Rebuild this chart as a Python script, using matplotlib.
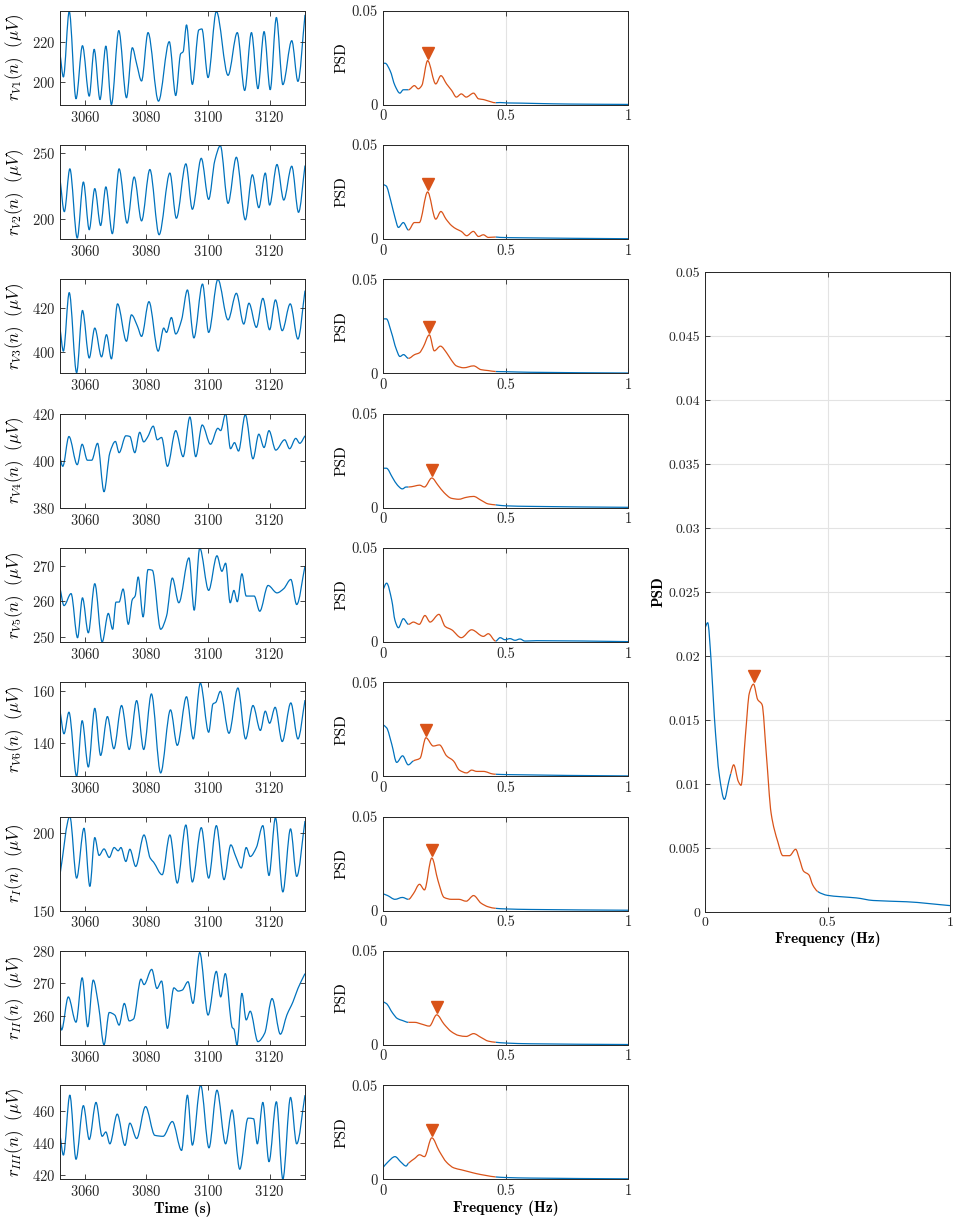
import numpy as np
import matplotlib
matplotlib.use('Agg')
import matplotlib.pyplot as plt
from matplotlib.path import Path
from matplotlib.patches import PathPatch
from matplotlib.transforms import offset_copy

plt.rcParams.update({
    'font.family': 'cmr10', 'mathtext.fontset': 'cm',
    'axes.formatter.use_mathtext': True, 'font.size': 10,
    'axes.linewidth': 0.7, 'axes.edgecolor': '#262626',
    'xtick.color': '#262626', 'ytick.color': '#262626',
    'xtick.direction': 'in', 'ytick.direction': 'in',
    'xtick.top': True, 'ytick.right': True,
    'xtick.major.size': 3.5, 'ytick.major.size': 3.5,
    'xtick.major.width': 0.6, 'ytick.major.width': 0.6,
})

BLUE = '#0072BD'
RED = '#D95319'

# ---------------- time series (s, uV): read at peaks / troughs / shoulders ----------------
t_v1 = [3051.9, 3053.0, 3054.9, 3057.1, 3059.2, 3061.4, 3063.0, 3064.9, 3066.8, 3068.6, 3071.0, 3073.5, 3075.4, 3076.8,
        3078.4, 3080.5, 3083.9, 3087.4, 3089.5, 3091.1, 3091.9, 3093.0, 3094.9, 3097.0, 3098.0, 3100.0, 3102.7, 3106.5,
        3109.5, 3111.9, 3114.1, 3116.2, 3118.2, 3120.2, 3122.2, 3124.3, 3127.2, 3129.2, 3131.5]
v_v1 = [214.2, 202.5, 235.0, 191.7, 218.0, 193.0, 216.2, 191.3, 217.8, 188.8, 225.5, 192.2, 217.0, 209.0,
        200.5, 224.5, 190.5, 220.0, 193.3, 214.0, 215.0, 228.3, 198.8, 225.8, 226.3, 202.2, 235.0, 203.3,
        224.5, 195.8, 224.5, 196.7, 225.0, 196.2, 232.0, 198.7, 220.5, 200.3, 233.3]

t_v2 = [3051.9, 3053.3, 3055.1, 3057.5, 3059.5, 3061.4, 3063.2, 3065.1, 3066.8, 3068.9, 3071.1, 3073.7, 3076.0, 3078.4,
        3081.1, 3084.1, 3087.6, 3089.7, 3092.8, 3094.9, 3097.8, 3100.2, 3102.2, 3104.0, 3106.5, 3109.2, 3112.1, 3114.4,
        3116.5, 3118.6, 3120.0, 3122.4, 3124.6, 3127.2, 3129.4, 3131.5]
v_v2 = [230.5, 205.5, 238.0, 185.5, 228.0, 191.8, 223.0, 195.0, 224.3, 188.8, 238.0, 196.8, 231.8, 198.5,
        237.5, 188.0, 234.8, 200.5, 241.8, 207.3, 246.0, 214.8, 244.3, 255.5, 211.8, 246.8, 199.3, 233.5,
        208.5, 234.8, 210.5, 241.3, 214.3, 240.0, 205.0, 240.5]

t_v3 = [3051.9, 3053.0, 3054.9, 3057.3, 3059.2, 3061.4, 3063.2, 3065.4, 3067.0, 3068.6, 3070.6, 3073.5, 3075.1, 3077.1,
        3078.4, 3080.8, 3083.8, 3085.6, 3086.5, 3088.1, 3089.5, 3091.4, 3093.3, 3095.4, 3098.2, 3100.2, 3103.2, 3106.5,
        3109.2, 3111.6, 3113.3, 3115.7, 3117.8, 3120.0, 3121.9, 3124.1, 3126.7, 3129.2, 3131.5]
v_v3 = [411.0, 400.5, 427.1, 390.7, 419.0, 397.4, 411.0, 397.9, 408.0, 397.0, 422.0, 405.0, 417.0, 411.7,
        407.2, 423.0, 400.5, 411.0, 409.0, 415.8, 408.3, 414.7, 428.3, 406.5, 431.0, 409.0, 433.1, 414.7,
        426.8, 412.8, 422.3, 411.3, 424.5, 410.2, 423.8, 409.8, 422.0, 406.0, 428.0]

t_v4 = [3051.9, 3052.8, 3054.8, 3057.5, 3059.1, 3060.8, 3062.2, 3064.1, 3066.2, 3068.1, 3069.9, 3071.1, 3073.3, 3074.6,
        3076.2, 3077.8, 3079.1, 3080.3, 3082.2, 3083.5, 3084.9, 3086.8, 3089.5, 3091.9, 3094.1, 3096.0, 3098.1, 3100.8,
        3103.2, 3104.1, 3105.7, 3107.3, 3108.6, 3109.9, 3112.1, 3114.6, 3116.5, 3118.2, 3119.8, 3122.0, 3124.9, 3126.5,
        3128.5, 3129.8, 3131.5]
v_v4 = [401.2, 397.6, 410.3, 398.3, 407.0, 400.2, 400.2, 407.4, 386.8, 403.4, 408.2, 403.4, 410.6, 410.3,
        403.4, 412.1, 408.0, 409.9, 414.7, 408.9, 409.9, 397.6, 412.8, 401.7, 418.6, 401.7, 415.2, 407.0,
        413.8, 412.8, 420.0, 405.1, 407.7, 404.1, 419.6, 400.8, 411.3, 405.6, 412.8, 404.5, 408.9, 405.1,
        409.5, 407.4, 410.6]

t_v5 = [3051.9, 3053.2, 3055.5, 3057.6, 3059.2, 3061.1, 3063.2, 3065.6, 3067.6, 3069.0, 3070.1, 3071.1, 3072.4, 3074.1,
        3075.4, 3076.3, 3077.3, 3078.9, 3080.5, 3081.9, 3084.6, 3086.5, 3088.4, 3090.5, 3093.8, 3095.5, 3097.3, 3100.2,
        3102.9, 3104.5, 3105.7, 3107.2, 3108.4, 3109.5, 3111.0, 3112.4, 3115.0, 3116.8, 3119.5, 3122.4, 3124.6, 3126.9,
        3128.8, 3131.5]
v_v5 = [263.8, 258.8, 262.2, 249.7, 261.0, 251.1, 265.0, 248.5, 256.6, 252.1, 259.8, 259.8, 263.5, 253.5,
        260.5, 261.5, 266.9, 255.6, 269.0, 268.8, 252.1, 255.8, 266.6, 259.6, 272.3, 257.5, 275.1, 263.1,
        272.9, 268.5, 270.8, 259.6, 263.1, 259.9, 267.8, 261.5, 261.5, 257.2, 264.5, 262.4, 263.6, 266.2,
        259.1, 270.0]

t_v6 = [3051.9, 3053.2, 3054.8, 3057.3, 3059.1, 3061.1, 3063.2, 3065.1, 3067.3, 3069.4, 3071.9, 3074.4, 3076.8, 3079.1,
        3081.6, 3084.6, 3087.8, 3090.0, 3093.0, 3095.2, 3097.5, 3100.2, 3101.6, 3102.5, 3104.0, 3106.8, 3109.7, 3112.2,
        3114.6, 3117.0, 3118.6, 3120.0, 3121.8, 3124.1, 3126.9, 3129.2, 3131.5]
v_v6 = [152.5, 143.5, 151.9, 127.0, 148.6, 130.6, 153.4, 135.1, 150.2, 137.7, 154.5, 137.4, 156.4, 137.4,
        159.0, 128.3, 152.8, 139.0, 157.9, 141.5, 163.2, 144.1, 155.1, 155.7, 160.0, 143.7, 161.3, 141.5,
        154.5, 144.8, 152.3, 147.6, 153.8, 140.5, 155.5, 141.5, 156.6]

t_i = [3051.9, 3055.1, 3057.3, 3059.7, 3061.6, 3063.2, 3064.6, 3066.2, 3067.9, 3069.5, 3070.8, 3071.7, 3073.3, 3074.6,
       3076.5, 3079.2, 3081.2, 3082.3, 3085.1, 3087.6, 3090.0, 3092.8, 3094.9, 3097.8, 3100.2, 3102.7, 3105.2, 3107.4,
       3109.0, 3110.8, 3112.4, 3113.7, 3115.7, 3117.8, 3119.8, 3121.9, 3124.3, 3126.8, 3128.8, 3131.5]
v_i = [173.1, 210.5, 170.9, 203.0, 165.6, 197.0, 185.5, 189.7, 184.2, 190.6, 188.5, 190.6, 181.6, 189.5,
       178.4, 198.7, 183.8, 181.2, 173.1, 198.7, 167.7, 205.1, 168.4, 203.4, 170.9, 204.7, 169.9, 192.3,
       184.8, 177.4, 190.6, 184.8, 190.6, 204.7, 172.6, 209.8, 162.0, 202.6, 172.0, 207.7]

t_ii = [3051.9, 3052.4, 3054.6, 3057.1, 3059.1, 3060.9, 3062.7, 3064.4, 3066.2, 3067.9, 3069.7, 3071.1, 3072.8, 3074.4,
        3075.8, 3078.2, 3079.2, 3081.7, 3083.4, 3084.9, 3086.8, 3088.9, 3090.3, 3091.6, 3093.5, 3095.1, 3097.3, 3100.0,
        3102.7, 3104.1, 3105.6, 3107.9, 3108.4, 3109.4, 3111.0, 3112.4, 3113.7, 3116.2, 3118.4, 3120.8, 3123.5, 3125.6,
        3127.6, 3129.2, 3131.5]
v_ii = [258.2, 255.6, 265.8, 258.0, 271.7, 256.6, 271.0, 263.3, 251.0, 261.0, 260.2, 257.1, 263.8, 258.4,
        259.0, 271.3, 269.6, 274.3, 268.4, 270.7, 256.1, 268.6, 267.6, 267.9, 270.5, 263.8, 279.5, 260.2,
        273.7, 265.8, 273.0, 256.3, 255.9, 251.0, 266.9, 258.7, 261.4, 252.0, 254.6, 265.3, 254.3, 260.2,
        264.3, 268.4, 273.0]

t_iii = [3051.9, 3053.0, 3055.1, 3057.1, 3059.5, 3061.4, 3063.6, 3065.6, 3066.8, 3068.1, 3070.5, 3073.0, 3074.6, 3076.8,
         3079.7, 3082.7, 3085.4, 3088.4, 3091.4, 3093.3, 3094.9, 3097.6, 3100.3, 3102.9, 3105.7, 3107.8, 3110.3, 3113.0,
         3114.8, 3116.0, 3117.8, 3119.8, 3122.2, 3124.3, 3126.8, 3128.8, 3131.5]
v_iii = [445.2, 432.5, 469.8, 429.9, 463.3, 442.2, 465.3, 444.2, 446.9, 439.5, 458.0, 438.5, 452.4, 442.8,
         462.7, 444.8, 444.2, 453.4, 435.4, 469.8, 438.7, 476.0, 437.0, 472.9, 439.5, 460.6, 423.7, 455.5,
         455.1, 439.5, 465.3, 428.4, 465.7, 417.5, 468.4, 439.5, 469.8]

ts_t = [t_v1, t_v2, t_v3, t_v4, t_v5, t_v6, t_i, t_ii, t_iii]
ts_v = [v_v1, v_v2, v_v3, v_v4, v_v5, v_v6, v_i, v_ii, v_iii]
leads = ['V1', 'V2', 'V3', 'V4', 'V5', 'V6', 'I', 'II', 'III']
ts_ylim = [(188.7, 235.3), (184.7, 256.0), (390.4, 433.1), (380, 420), (248.5, 275.1),
           (127.0, 163.5), (150, 210.5), (251, 280), (417.5, 476)]
ts_yticks = [[200, 220], [200, 250], [400, 420], [380, 400, 420], [250, 260, 270],
             [140, 160], [150, 200], [260, 270, 280], [420, 440, 460]]

# ---------------- PSDs (Hz, a.u.) ----------------
f_p1 = [0, 0.01, 0.03, 0.05, 0.07, 0.084, 0.105, 0.129, 0.145, 0.159, 0.183, 0.216, 0.237, 0.26, 0.281, 0.3,
        0.32, 0.34, 0.37, 0.39, 0.41, 0.423, 0.46, 0.478, 0.505, 0.56, 0.627, 0.76, 1.0]
p_p1 = [0.0221, 0.0221, 0.0182, 0.0102, 0.0062, 0.008, 0.008, 0.0102, 0.0085, 0.0102, 0.0235, 0.0111, 0.0155,
        0.0111, 0.0076, 0.0041, 0.0058, 0.0041, 0.0062, 0.0032, 0.0028, 0.0023, 0.0011, 0.0012, 0.001, 0.0009,
        0.0007, 0.0004, 0.0002]

f_p2 = [0, 0.014, 0.033, 0.05, 0.064, 0.084, 0.105, 0.129, 0.149, 0.183, 0.216, 0.237, 0.258, 0.281, 0.301,
        0.32, 0.342, 0.369, 0.39, 0.41, 0.43, 0.46, 0.478, 0.56, 1.0]
p_p2 = [0.0291, 0.0283, 0.0203, 0.0115, 0.0062, 0.0088, 0.0048, 0.0088, 0.0088, 0.0251, 0.0106, 0.0147, 0.0106,
        0.0071, 0.0053, 0.0041, 0.0018, 0.0041, 0.0014, 0.0023, 0.0009, 0.0011, 0.0009, 0.0007, 0.0002]

f_p3 = [0, 0.015, 0.035, 0.055, 0.07, 0.085, 0.105, 0.13, 0.15, 0.165, 0.19, 0.21, 0.235, 0.26, 0.28, 0.3,
        0.33, 0.37, 0.4, 0.43, 0.46, 0.5, 0.6, 1.0]
p_p3 = [0.029, 0.029, 0.022, 0.013, 0.009, 0.01, 0.008, 0.01, 0.011, 0.014, 0.0205, 0.012, 0.0145, 0.011,
        0.007, 0.004, 0.003, 0.004, 0.002, 0.0015, 0.001, 0.0009, 0.0006, 0.0002]

f_p4 = [0, 0.015, 0.04, 0.06, 0.08, 0.095, 0.105, 0.13, 0.15, 0.17, 0.2, 0.225, 0.25, 0.28, 0.31, 0.34,
        0.37, 0.4, 0.43, 0.46, 0.5, 0.6, 1.0]
p_p4 = [0.021, 0.021, 0.016, 0.012, 0.01, 0.011, 0.011, 0.0115, 0.012, 0.011, 0.0158, 0.012, 0.008, 0.005,
        0.0045, 0.0055, 0.006, 0.004, 0.002, 0.0015, 0.001, 0.0007, 0.0002]

f_p5 = [0, 0.016, 0.037, 0.05, 0.064, 0.084, 0.105, 0.125, 0.149, 0.172, 0.193, 0.229, 0.254, 0.281, 0.32,
        0.362, 0.41, 0.43, 0.46, 0.478, 0.498, 0.518, 0.539, 0.559, 0.579, 0.627, 1.0]
p_p5 = [0.0274, 0.0313, 0.0221, 0.0115, 0.0076, 0.0124, 0.0094, 0.0106, 0.0094, 0.0141, 0.0106, 0.0147, 0.0083,
        0.0065, 0.0023, 0.0065, 0.003, 0.0044, 0.0005, 0.0023, 0.0012, 0.0018, 0.0009, 0.0016, 0.0005, 0.0007,
        0.0002]

f_p6 = [0, 0.016, 0.037, 0.057, 0.081, 0.104, 0.125, 0.152, 0.176, 0.206, 0.231, 0.26, 0.288, 0.312, 0.342,
        0.362, 0.383, 0.41, 0.45, 0.46, 0.505, 1.0]
p_p6 = [0.0275, 0.0258, 0.017, 0.0074, 0.0109, 0.0061, 0.0082, 0.0096, 0.0205, 0.0161, 0.0167, 0.0109, 0.0082,
        0.0033, 0.0018, 0.0033, 0.0026, 0.0026, 0.0012, 0.0011, 0.0009, 0.0002]

f_p7 = [0, 0.02, 0.05, 0.08, 0.105, 0.125, 0.15, 0.17, 0.2, 0.225, 0.25, 0.28, 0.31, 0.34, 0.37, 0.4, 0.43,
        0.46, 0.5, 0.6, 1.0]
p_p7 = [0.009, 0.008, 0.006, 0.007, 0.006, 0.009, 0.014, 0.011, 0.028, 0.016, 0.007, 0.006, 0.006, 0.005, 0.008,
        0.004, 0.002, 0.0012, 0.0009, 0.0006, 0.0002]

f_p8 = [0, 0.015, 0.04, 0.06, 0.08, 0.105, 0.13, 0.16, 0.19, 0.22, 0.25, 0.28, 0.31, 0.34, 0.37, 0.4, 0.43,
        0.46, 0.5, 0.6, 1.0]
p_p8 = [0.023, 0.022, 0.017, 0.014, 0.013, 0.012, 0.012, 0.011, 0.01, 0.016, 0.011, 0.007, 0.005, 0.0045, 0.006,
        0.004, 0.002, 0.0014, 0.001, 0.0006, 0.0002]

f_p9 = [0, 0.02, 0.05, 0.075, 0.095, 0.105, 0.13, 0.15, 0.17, 0.2, 0.23, 0.26, 0.29, 0.32, 0.35, 0.38, 0.42,
        0.46, 0.5, 0.6, 1.0]
p_p9 = [0.006, 0.009, 0.012, 0.009, 0.007, 0.0085, 0.011, 0.013, 0.012, 0.022, 0.015, 0.009, 0.006, 0.005, 0.004,
        0.003, 0.002, 0.0012, 0.0009, 0.0006, 0.0002]

psd_f = [f_p1, f_p2, f_p3, f_p4, f_p5, f_p6, f_p7, f_p8, f_p9]
psd_p = [p_p1, p_p2, p_p3, p_p4, p_p5, p_p6, p_p7, p_p8, p_p9]
has_peak = [True, True, True, True, False, True, True, True, True]

# averaged PSD (right panel)
f_avg = [0, 0.011, 0.025, 0.038, 0.059, 0.079, 0.097, 0.105, 0.117, 0.136, 0.147, 0.165, 0.181, 0.198, 0.215,
         0.233, 0.25, 0.27, 0.297, 0.318, 0.345, 0.37, 0.386, 0.402, 0.424, 0.44, 0.46, 0.5, 0.55, 0.618,
         0.686, 0.823, 1.0]
p_avg = [0.0222, 0.0226, 0.0196, 0.0153, 0.0106, 0.0088, 0.0102, 0.0108, 0.0115, 0.0102, 0.0099, 0.0138, 0.0171,
         0.0178, 0.0166, 0.0162, 0.0124, 0.0077, 0.0055, 0.0044, 0.0044, 0.0049, 0.0041, 0.0032, 0.0029, 0.0021,
         0.0016, 0.0013, 0.0012, 0.0011, 0.0009, 0.0008, 0.0005]

band = (0.105, 0.46)

W, H = 957, 1230
fig = plt.figure(figsize=(W / 100, H / 100), dpi=100)


def px_axes(x0, y0, x1, y1):
    return fig.add_axes([x0 / W, 1 - y1 / H, (x1 - x0) / W, (y1 - y0) / H])


def slopes(x, y):
    # monotone (Fritsch-Butland) tangents, flat at local extrema
    h = np.diff(x)
    d = np.diff(y) / h
    m = np.zeros(len(x))
    m[0], m[-1] = d[0], d[-1]
    for k in range(1, len(x) - 1):
        if d[k - 1] * d[k] > 0:
            m[k] = 3 * (h[k - 1] + h[k]) / ((2 * h[k] + h[k - 1]) / d[k - 1] + (h[k] + 2 * h[k - 1]) / d[k])
    return m


def smooth_line(ax, x, y, i0=0, i1=None, **kw):
    # draw the read points as a smooth Bezier curve (cubic Hermite segments)
    x = np.asarray(x, float)
    y = np.asarray(y, float)
    m = slopes(x, y)
    if i1 is None:
        i1 = len(x) - 1
    verts = [(x[i0], y[i0])]
    codes = [Path.MOVETO]
    for k in range(i0, i1):
        h = x[k + 1] - x[k]
        verts += [(x[k] + h / 3, y[k] + m[k] * h / 3),
                  (x[k + 1] - h / 3, y[k + 1] - m[k + 1] * h / 3),
                  (x[k + 1], y[k + 1])]
        codes += [Path.CURVE4] * 3
    ax.add_patch(PathPatch(Path(verts, codes), fill=False, capstyle='butt', joinstyle='round', **kw))


def draw_psd(ax, f, p, peak=True):
    f = np.asarray(f)
    p = np.asarray(p)
    idx = np.where((f >= band[0]) & (f <= band[1]))[0]
    smooth_line(ax, f, p, 0, idx[0], edgecolor=BLUE, lw=0.9)
    smooth_line(ax, f, p, idx[-1], len(f) - 1, edgecolor=BLUE, lw=0.9)
    smooth_line(ax, f, p, idx[0], idx[-1], edgecolor=RED, lw=0.9)
    if peak:
        k = idx[np.argmax(p[idx])]
        tr = offset_copy(ax.transData, fig=fig, x=0, y=8, units='dots')
        ax.plot(f[k], p[k], 'v', color=RED, ms=8.5, transform=tr, clip_on=False)
    ax.set_xlim(0, 1)
    ax.set_ylim(0, 0.05)
    ax.set_xticks([0, 0.5, 1])
    ax.set_xticklabels(['0', '0.5', '1'])
    ax.grid(True, color='#e3e3e3', lw=0.8)
    ax.set_axisbelow(True)


top0, pitch, hgt = 10.8, 134.3, 94.0
for i in range(9):
    y0 = top0 + pitch * i
    ax = px_axes(60, y0, 305, y0 + hgt)
    smooth_line(ax, ts_t[i], ts_v[i], edgecolor=BLUE, lw=0.9)
    ax.set_xlim(3051.9, 3131.5)
    ax.set_ylim(*ts_ylim[i])
    ax.set_xticks([3060, 3080, 3100, 3120])
    ax.set_yticks(ts_yticks[i])
    ax.tick_params(labelsize=10.5)
    ax.set_ylabel(r'$r_{%s}(n)\ \ (\mu V)$' % leads[i], fontsize=12, labelpad=4)
    if i == 8:
        ax.set_xlabel('Time (s)', fontsize=11, family='cmb10', labelpad=2)

    bx = px_axes(382.7, y0, 628.3, y0 + hgt)
    draw_psd(bx, psd_f[i], psd_p[i], has_peak[i])
    bx.set_yticks([0, 0.05])
    bx.set_yticklabels(['0', '0.05'])
    bx.tick_params(labelsize=10.5)
    bx.set_ylabel('PSD', fontsize=11, labelpad=2)
    if i == 8:
        bx.set_xlabel('Frequency (Hz)', fontsize=11, family='cmb10', labelpad=2)

cx = px_axes(705, 272, 950, 912)
draw_psd(cx, f_avg, p_avg, True)
yt = np.arange(0, 0.0501, 0.005)
cx.set_yticks(yt)
cx.set_yticklabels(['0'] + ['%g' % v for v in yt[1:]])
cx.tick_params(labelsize=10)
cx.set_ylabel('PSD', fontsize=11, family='cmb10', labelpad=2)
cx.set_xlabel('Frequency (Hz)', fontsize=11, family='cmb10', labelpad=2)

fig.savefig('out.png', dpi=100)
